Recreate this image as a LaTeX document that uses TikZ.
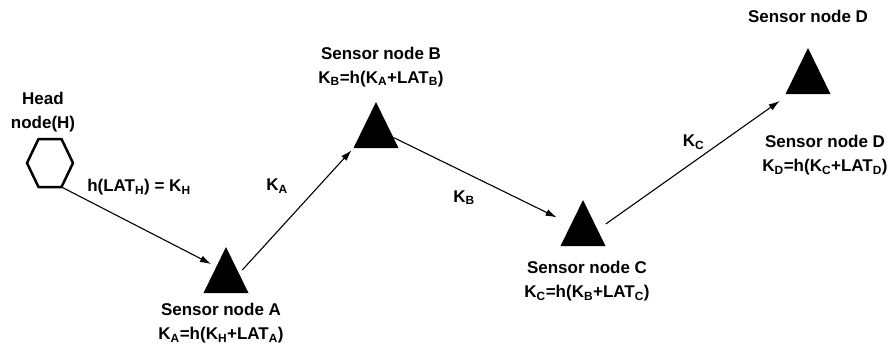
\documentclass[tikz,border=0pt]{standalone}
\usepackage{fontspec}
\setmainfont{Liberation Sans}
\usetikzlibrary{arrows.meta, positioning, shapes.geometric}

\begin{document}
\begin{tikzpicture}[x=1pt, y=-1pt,
  sensor/.style={regular polygon, regular polygon sides=3, fill, minimum size=52pt,
    inner sep=0pt, outer sep=0pt, yscale=1.18, transform shape},
  head/.style={minimum width=46pt, minimum height=48pt, inner sep=0pt, outer sep=0pt},
  hexa/.style={line width=2.5pt, line join=round},
  lbl/.style={align=center, inner sep=0pt, font=\fontsize{17}{24}\selectfont\bfseries},
  key/.style={inner sep=1pt, font=\fontsize{17}{24}\selectfont\bfseries},
  link/.style={->, line width=1.1pt},
  >={Latex[length=11pt, width=7pt]}]
\useasboundingbox (0,0) rectangle (891,349);
\node[head] (H) at (50,163) {};
\draw[hexa] (H.west) -- ([xshift=11.5pt]H.north west) -- ([xshift=-11.5pt]H.north east)
  -- (H.east) -- ([xshift=-11.5pt]H.south east) -- ([xshift=11.5pt]H.south west) -- cycle;
\node[sensor] (A) at (226,277.7) {};
\node[sensor] (B) at (376,132.7) {};
\node[sensor] (C) at (583,230.7) {};
\node[sensor] (D) at (808,78.7) {};
\node[lbl, above=7pt of H, xshift=-7pt] (Hlbl) {Head\\node(H)};
\node[lbl, below=10pt of A, xshift=-5pt] (Albl)
  {Sensor node A\\K\textsubscript{A}=h(K\textsubscript{H}+LAT\textsubscript{A})};
\node[lbl, above=15pt of B, xshift=5pt] (Blbl)
  {Sensor node B\\K\textsubscript{B}=h(K\textsubscript{A}+LAT\textsubscript{B})};
\node[lbl, below=15pt of C, xshift=4pt] (Clbl)
  {Sensor node C\\K\textsubscript{C}=h(K\textsubscript{B}+LAT\textsubscript{C})};
\node[lbl, above=25pt of D] (Dname) {Sensor node D};
\node[lbl, below=41pt of D, xshift=17pt] (Dlbl)
  {Sensor node D\\K\textsubscript{D}=h(K\textsubscript{C}+LAT\textsubscript{D})};
\draw[link, shorten >=6pt] ([xshift=-11.5pt]H.south east) --
  node[key, midway, above=30pt] (hk) {h(LAT\textsubscript{H}) = K\textsubscript{H}} (A.136);
\draw[link, shorten <=5pt, shorten >=3pt] (A.15) --
  node[key, midway, above left=16pt and 7pt] (ka) {K\textsubscript{A}} (B.210);
\draw[link, shorten >=16pt] (B.-13) --
  node[key, midway, below left=8pt and 6pt] (kb) {K\textsubscript{B}} (C.156);
\draw[link, shorten <=10pt, shorten >=12pt] (C.3) --
  node[key, midway, above=11pt] (kc) {K\textsubscript{C}} (D.215);
\end{tikzpicture}
\end{document}
